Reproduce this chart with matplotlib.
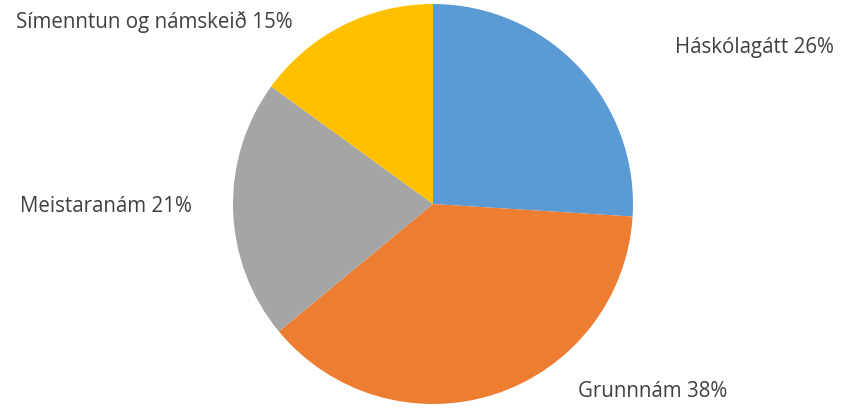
import matplotlib
matplotlib.use("Agg")
from matplotlib import pyplot as plt

categories = ["Háskólagátt", "Grunnnám", "Meistaranám", "Símenntun og námskeið"]
values = [26, 38, 21, 15]
colors = ["#5B9BD5", "#ED7D31", "#A5A5A5", "#FFC000"]

# label positions in pie-radius units (layout only)
label_pos = [(1.605, 0.785), (1.10, -0.935), (-1.635, -0.01), (-1.395, 0.915)]

W, H = 841, 410
fig = plt.figure(figsize=(W / 100, H / 100), dpi=100)
cx, cy, r = 433, 205, 200
ax = fig.add_axes([(cx - r) / W, (H - cy - r) / H, 2 * r / W, 2 * r / H])

wedges, _ = ax.pie(values, colors=colors, startangle=90, counterclock=False,
                   radius=1, wedgeprops=dict(linewidth=0))
ax.set_xlim(-1, 1)
ax.set_ylim(-1, 1)
ax.set_aspect("equal")
ax.axis("off")

for name, v, (x, y) in zip(categories, values, label_pos):
    ax.text(x, y, f"{name} {v}%", ha="center", va="center",
            fontsize=14.8, color="#404040", family="Open Sans")

fig.savefig("out.png", dpi=100)
